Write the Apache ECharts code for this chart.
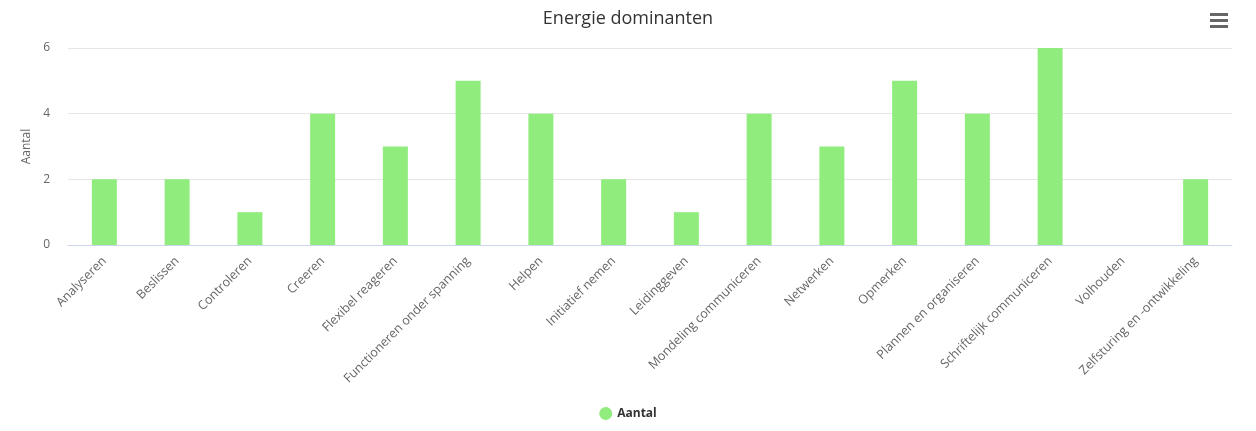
<!DOCTYPE html>
<html>
	<head>
		<meta charset="UTF-8" />
		<script src="https://cdn.jsdelivr.net/npm/echarts@6/dist/echarts.min.js"></script>
		<title>Energie dominanten</title>
		<style>
			body {
				margin: 0;
				background-color: #fff;
			}
			#chart {
				width: 1256px;
				height: 431px;
			}
		</style>
	</head>
	<body>
		<div id="chart"></div>
	</body>
</html>

<script>
	var categories = [
		'Analyseren',
		'Beslissen',
		'Controleren',
		'Creeren',
		'Flexibel reageren',
		'Functioneren onder spanning',
		'Helpen',
		'Initiatief nemen',
		'Leidinggeven',
		'Mondeling communiceren',
		'Netwerken',
		'Opmerken',
		'Plannen en organiseren',
		'Schriftelijk communiceren',
		'Volhouden',
		'Zelfsturing en -ontwikkeling',
	]
	var aantal = [2, 2, 1, 4, 3, 5, 4, 2, 1, 4, 3, 5, 4, 6, 0, 2]
	var yTicks = [0, 2, 4, 6]

	var font = "'Open Sans', sans-serif"
	var chart = echarts.init(document.getElementById('chart'))

	var option = {
		animation: false,
		textStyle: { fontFamily: font },
		title: {
			text: 'Energie dominanten',
			left: 'center',
			top: 5,
			textStyle: { fontSize: 18, fontWeight: 'normal', color: '#333', fontFamily: font },
		},
		legend: {
			bottom: 6,
			left: 'center',
			icon: 'circle',
			itemWidth: 13,
			itemHeight: 13,
			textStyle: { fontSize: 12, fontWeight: 'bold', color: '#333' },
		},
		grid: { left: 68, right: 24, top: 48, bottom: 186 },
		xAxis: {
			type: 'category',
			data: categories,
			axisLine: { lineStyle: { color: '#ccd6eb' } },
			axisTick: { show: false },
			axisLabel: { rotate: 45, fontSize: 12.5, color: '#666', margin: 14, interval: 0 },
		},
		yAxis: {
			type: 'value',
			min: yTicks[0],
			max: yTicks[yTicks.length - 1],
			interval: 2,
			name: 'Aantal',
			nameLocation: 'middle',
			nameGap: 27,
			nameTextStyle: { fontSize: 12, color: '#666' },
			axisLabel: { fontSize: 12, color: '#666', margin: 18 },
			splitLine: { lineStyle: { color: '#e6e6e6' } },
		},
		series: [
			{
				name: 'Aantal',
				type: 'bar',
				data: aantal,
				barWidth: 25,
				itemStyle: { color: '#90ed7d' },
			},
		],
		graphic: [
			{ type: 'rect', shape: { x: 1210, y: 13, width: 18, height: 3 }, style: { fill: '#666' } },
			{ type: 'rect', shape: { x: 1210, y: 19, width: 18, height: 3 }, style: { fill: '#666' } },
			{ type: 'rect', shape: { x: 1210, y: 25, width: 18, height: 3 }, style: { fill: '#666' } },
		],
	}
	chart.setOption(option)
</script>
